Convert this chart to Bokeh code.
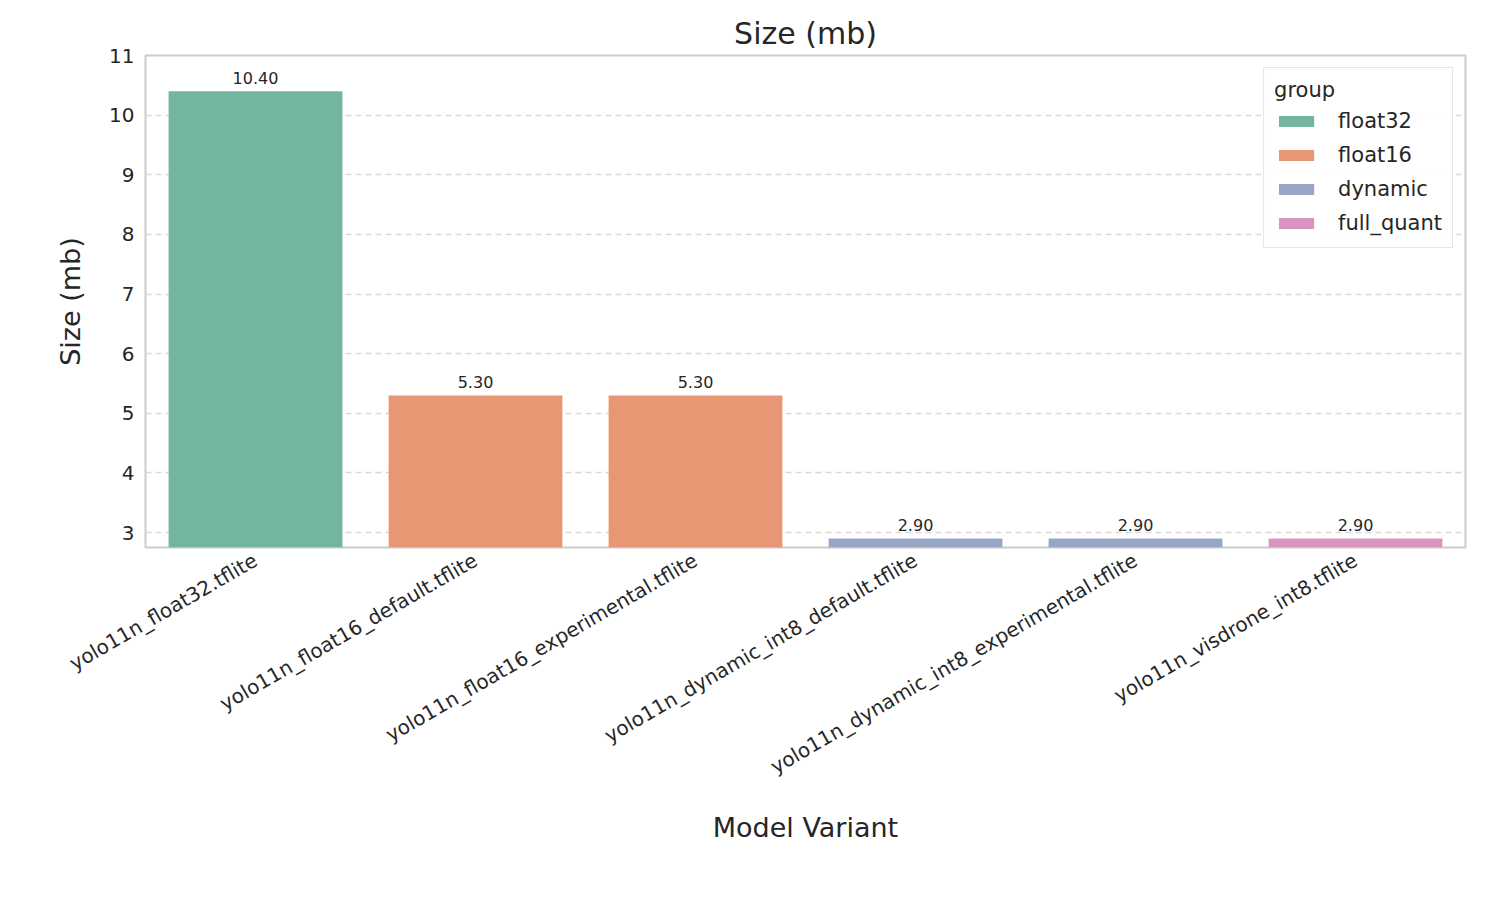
import math
from bokeh.plotting import figure
from bokeh.models import ColumnDataSource, Legend, LegendItem
from bokeh.core.properties import value
from bokeh.embed import file_html
from bokeh.resources import INLINE

# data
models = ["yolo11n_float32.tflite", "yolo11n_float16_default.tflite",
          "yolo11n_float16_experimental.tflite", "yolo11n_dynamic_int8_default.tflite",
          "yolo11n_dynamic_int8_experimental.tflite", "yolo11n_visdrone_int8.tflite"]
sizes = [10.40, 5.30, 5.30, 2.90, 2.90, 2.90]
groups = ["float32", "float16", "float16", "dynamic", "dynamic", "full_quant"]
group_names = ["float32", "float16", "dynamic", "full_quant"]
group_colors = {"float32": "#73b59e", "float16": "#e89775", "dynamic": "#97a6c4", "full_quant": "#d995bf"}

FONT = "DejaVu Sans"
bottom = 2.75

src = ColumnDataSource(dict(
    x=models, top=sizes, group=groups,
    label=["%.2f" % s for s in sizes],
    ly=[s + 0.12 for s in sizes],
))

p = figure(x_range=models, y_range=(bottom, 11), width=1484, height=884,
           frame_width=1320, frame_height=492,
           min_border_left=145, min_border_top=55, min_border_right=19, min_border_bottom=10,
           output_backend="svg", toolbar_location=None, title="Size (mb)",
           x_axis_label="Model Variant", y_axis_label="Size (mb)")

renderers = {}
for g in group_names:
    idx = [i for i, gg in enumerate(groups) if gg == g]
    s = ColumnDataSource(dict(x=[models[i] for i in idx], top=[sizes[i] for i in idx]))
    renderers[g] = p.vbar(x="x", top="top", bottom=bottom, width=0.79, source=s,
                          fill_color=group_colors[g], line_color=None)

p.text(x="x", y="ly", text="label", source=src, text_align="center", text_baseline="bottom",
       text_font=value(FONT), text_font_size="16px", text_color="#262626")

legend = Legend(items=[LegendItem(label=g, renderers=[renderers[g]]) for g in group_names],
                location="top_right", title="group")
legend.title_text_font = FONT
legend.title_text_font_size = "21px"
legend.title_text_font_style = "normal"
legend.title_text_color = "#262626"
legend.label_text_font = FONT
legend.label_text_font_size = "21px"
legend.label_text_color = "#262626"
legend.border_line_color = "#cccccc"
legend.border_line_width = 1.5
legend.glyph_width = 44
legend.glyph_height = 14
legend.label_height = 28
legend.spacing = 6
legend.padding = 10
legend.margin = 12
legend.label_standoff = 20
p.add_layout(legend)

p.title.align = "center"
p.title.text_font = FONT
p.title.text_font_size = "30px"
p.title.text_font_style = "normal"
p.title.text_color = "#262626"

p.outline_line_color = "#cccccc"
p.outline_line_width = 2
p.xgrid.grid_line_color = None
p.ygrid.grid_line_color = "#d9d9d9"
p.ygrid.grid_line_dash = "6 4"
p.ygrid.grid_line_width = 1.5
p.yaxis.ticker = [3, 4, 5, 6, 7, 8, 9, 10, 11]

for ax in (p.xaxis, p.yaxis):
    ax.axis_line_color = None
    ax.major_tick_line_color = None
    ax.minor_tick_line_color = None
    ax.major_label_text_font = FONT
    ax.major_label_text_font_size = "20px"
    ax.major_label_text_color = "#262626"
    ax.axis_label_text_font = FONT
    ax.axis_label_text_font_size = "27px"
    ax.axis_label_text_font_style = "normal"
    ax.axis_label_text_color = "#262626"
p.xaxis.major_label_orientation = math.pi / 6
p.xaxis.axis_label_standoff = 20
p.yaxis.axis_label_standoff = 20

open("out.html", "w").write(file_html(p, INLINE))
